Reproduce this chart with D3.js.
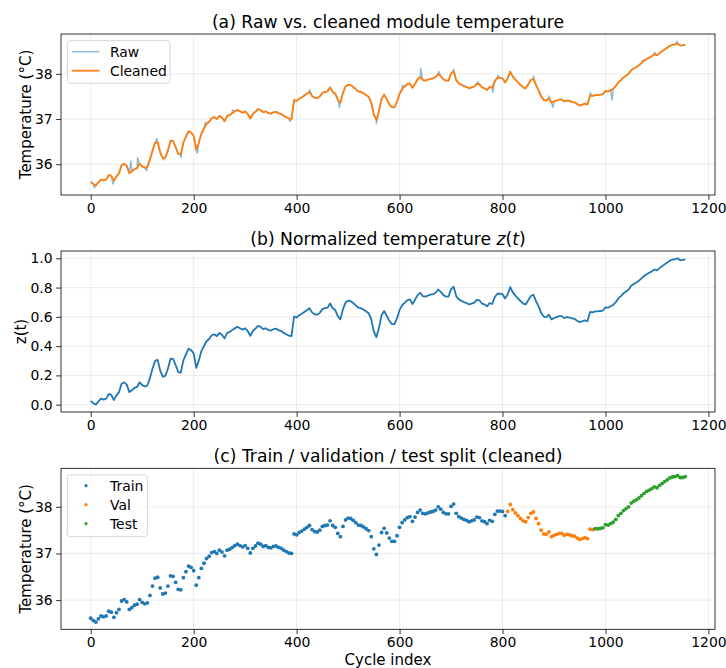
<!DOCTYPE html>
<html>
<head>
<meta charset="utf-8">
<script src="https://cdn.jsdelivr.net/npm/d3@7"></script>
<style>
  html, body { margin: 0; padding: 0; background: #fff; }
  svg { display: block; font-family: "DejaVu Sans", sans-serif; }
</style>
</head>
<body>
<svg id="chart" width="726" height="668"></svg>
<script>
// Cleaned module temperature (°C), one reading every 5 cycles starting at cycle 0
const cleanedTemp = [
  35.61, 35.56, 35.53, 35.60, 35.66, 35.64, 35.66, 35.76, 35.74, 35.63,
  35.73, 35.80, 35.98, 36.01, 35.96, 35.80, 35.84, 35.89, 35.91, 36.01,
  35.95, 35.92, 35.94, 36.10, 36.30, 36.47, 36.49, 36.26, 36.13, 36.15,
  36.30, 36.52, 36.51, 36.38, 36.23, 36.22, 36.48, 36.61, 36.73, 36.70,
  36.63, 36.32, 36.48, 36.68, 36.79, 36.89, 36.94, 37.02, 37.04, 37.00,
  37.07, 37.03, 36.95, 37.07, 37.09, 37.13, 37.17, 37.20, 37.17, 37.14,
  37.17, 37.11, 37.01, 37.11, 37.16, 37.22, 37.20, 37.15, 37.17, 37.13,
  37.12, 37.15, 37.16, 37.13, 37.11, 37.07, 37.04, 37.01, 37.00, 37.42,
  37.40, 37.45, 37.48, 37.52, 37.56, 37.60, 37.51, 37.47, 37.46, 37.50,
  37.58, 37.60, 37.61, 37.70, 37.60, 37.56, 37.43, 37.36, 37.58, 37.72,
  37.76, 37.75, 37.71, 37.66, 37.61, 37.60, 37.57, 37.53, 37.49, 37.36,
  37.10, 36.98, 37.18, 37.45, 37.54, 37.44, 37.33, 37.26, 37.26, 37.38,
  37.56, 37.66, 37.72, 37.77, 37.79, 37.69, 37.78, 37.88, 37.93, 37.86,
  37.85, 37.87, 37.89, 37.90, 37.93, 38.00, 37.95, 37.88, 37.85, 37.85,
  38.01, 38.06, 37.86, 37.79, 37.76, 37.73, 37.71, 37.68, 37.70, 37.72,
  37.78, 37.77, 37.70, 37.68, 37.64, 37.71, 37.69, 37.84, 37.91, 37.91,
  37.90, 37.81, 37.90, 38.05, 37.94, 37.87, 37.81, 37.75, 37.70, 37.68,
  37.77, 37.86, 37.89, 37.75, 37.64, 37.50, 37.42, 37.41, 37.46, 37.36,
  37.39, 37.41, 37.43, 37.43, 37.39, 37.41, 37.40, 37.38, 37.37, 37.33,
  37.30, 37.32, 37.34, 37.32, 37.52, 37.51, 37.53, 37.53, 37.54, 37.55,
  37.62, 37.61, 37.64, 37.67, 37.73, 37.81, 37.86, 37.92, 37.96, 38.00,
  38.08, 38.12, 38.15, 38.19, 38.24, 38.29, 38.33, 38.36, 38.39, 38.43,
  38.41, 38.46, 38.50, 38.54, 38.58, 38.62, 38.64, 38.65, 38.67, 38.63,
  38.63, 38.65
];
const cycleStep = 5;

// Raw readings that the cleaning step replaced (cycle, °C)
const rawOutlierCycle = [7, 43, 78, 91, 109, 128, 142, 175, 207, 223, 275, 387, 425, 483, 555,
  605, 641, 676, 705, 752, 781, 791, 860, 890, 898, 970, 1013, 1072, 1095, 1139];
const rawOutlierTemp = [35.48, 35.56, 36.07, 36.14, 35.86, 36.57, 36.10, 36.14, 36.24, 36.93, 37.20, 36.95, 37.65, 37.26, 36.90,
  37.74, 38.12, 38.05, 38.10, 37.83, 37.59, 37.97, 37.95, 37.51, 37.26, 37.58, 37.42, 38.30, 38.48, 38.72];

// First cycle of the validation and test segments
const valStartCycle = 809;
const testStartCycle = 978;

const xTicks = [0, 200, 400, 600, 800, 1000, 1200];
const tempTicks = [36, 37, 38];
const zTicks = [0.0, 0.2, 0.4, 0.6, 0.8, 1.0];

const titles = [
  "(a) Raw vs. cleaned module temperature",
  "(b) Normalized temperature ",
  "(c) Train / validation / test split (cleaned)"
];

const colors = { blue: "#1f77b4", orange: "#ff7f0e", green: "#2ca02c" };

// ---- derived series ----
const cleaned = cleanedTemp.map((t, i) => ({ c: i * cycleStep, t }));
const raw = cleaned.concat(rawOutlierCycle.map((c, i) => ({ c, t: rawOutlierTemp[i] })))
  .sort((a, b) => a.c - b.c);
const tMin = d3.min(cleanedTemp), tMax = d3.max(cleanedTemp);
const normalized = cleaned.map(d => ({ c: d.c, z: (d.t - tMin) / (tMax - tMin) }));

// ---- layout ----
const svg = d3.select("#chart");
const left = 61, right = 715, panelH = 161;
const tops = [34, 251, 468.3];
const tickFont = "13.9px", labelFont = "15px", titleFont = "17.2px";

const lastCycle = d3.max(cleaned, d => d.c);
const x = d3.scaleLinear()
  .domain([-0.05 * lastCycle, 1.05 * lastCycle])
  .range([left, right]);

function padded(lo, hi) {
  const m = (hi - lo) * 0.05;
  return [lo - m, hi + m];
}

function panel(idx, yDomain, yTicks, yFmt) {
  const top = tops[idx], bottom = top + panelH;
  const y = d3.scaleLinear().domain(yDomain).range([bottom, top]);
  const g = svg.append("g");

  // grid
  const grid = g.append("g").attr("stroke", "#b0b0b0").attr("stroke-opacity", 0.3).attr("stroke-width", 0.8);
  xTicks.forEach(v => grid.append("line").attr("x1", x(v)).attr("x2", x(v)).attr("y1", top).attr("y2", bottom));
  yTicks.forEach(v => grid.append("line").attr("x1", left).attr("x2", right).attr("y1", y(v)).attr("y2", y(v)));

  // axes
  const xa = g.append("g").attr("transform", `translate(0,${bottom})`)
    .call(d3.axisBottom(x).tickValues(xTicks).tickFormat(d3.format("d")).tickSize(4.9).tickPadding(2.9));
  const ya = g.append("g").attr("transform", `translate(${left},0)`)
    .call(d3.axisLeft(y).tickValues(yTicks).tickFormat(yFmt).tickSize(4.9).tickPadding(3.5));
  [xa, ya].forEach(a => {
    a.select(".domain").remove();
    a.selectAll(".tick line").attr("stroke", "#000").attr("stroke-width", 0.8);
    a.selectAll(".tick text").attr("fill", "#000").style("font-size", tickFont).style("font-family", "DejaVu Sans");
  });

  const plot = g.append("g");
  g.append("rect").attr("x", left).attr("y", top)
    .attr("width", right - left).attr("height", panelH)
    .attr("fill", "none").attr("stroke", "#000").attr("stroke-width", 0.8);

  return { g, y, top, bottom, plot };
}

function ylabel(p, text, bx) {
  return svg.append("text")
    .attr("transform", `translate(${bx},${(p.top + p.bottom) / 2}) rotate(-90)`)
    .attr("text-anchor", "middle").style("font-size", labelFont).attr("fill", "#000")
    .text(text);
}

function title(p, i) {
  return svg.append("text").attr("x", (left + right) / 2).attr("y", p.top - 6)
    .attr("text-anchor", "middle").style("font-size", titleFont).attr("fill", "#000")
    .text(titles[i]);
}

function legendBox(x0, y0, w, h) {
  svg.append("rect").attr("x", x0).attr("y", y0).attr("width", w).attr("height", h)
    .attr("rx", 2.8).attr("fill", "#fff").attr("fill-opacity", 0.8)
    .attr("stroke", "#cccccc").attr("stroke-width", 0.8);
}

// ---- (a) raw vs cleaned ----
const allA = raw.map(d => d.t);
const pA = panel(0, padded(d3.min(allA), d3.max(allA)), tempTicks, d3.format("d"));
const lineA = d3.line().x(d => x(d.c)).y(d => pA.y(d.t));
pA.plot.append("path").datum(raw).attr("d", lineA)
  .attr("fill", "none").attr("stroke", colors.blue).attr("stroke-opacity", 0.5).attr("stroke-width", 1.5)
  .attr("stroke-linejoin", "round");
pA.plot.append("path").datum(cleaned).attr("d", lineA)
  .attr("fill", "none").attr("stroke", colors.orange).attr("stroke-width", 1.8)
  .attr("stroke-linejoin", "round");
title(pA, 0);
ylabel(pA, "Temperature (°C)", 31);

legendBox(67.3, 40.7, 102.7, 42.6);
[["Raw", colors.blue, 0.5, 1.5], ["Cleaned", colors.orange, 1, 1.8]].forEach(([lab, col, op, w], i) => {
  const cy = 51.7 + i * 19;
  svg.append("line").attr("x1", 71.7).attr("x2", 99.5).attr("y1", cy).attr("y2", cy)
    .attr("stroke", col).attr("stroke-opacity", op).attr("stroke-width", w);
  svg.append("text").attr("x", 110).attr("y", cy + 5).style("font-size", tickFont).attr("fill", "#000").text(lab);
});

// ---- (b) normalized ----
const pB = panel(1, padded(0, 1), zTicks, d3.format(".1f"));
const lineB = d3.line().x(d => x(d.c)).y(d => pB.y(d.z));
pB.plot.append("path").datum(normalized).attr("d", lineB)
  .attr("fill", "none").attr("stroke", colors.blue).attr("stroke-width", 1.8)
  .attr("stroke-linejoin", "round");
const tb = title(pB, 1);
tb.append("tspan").style("font-style", "italic").text("z");
tb.append("tspan").text("(");
tb.append("tspan").style("font-style", "italic").text("t");
tb.append("tspan").text(")");
ylabel(pB, "z(t)", 26);

// ---- (c) split ----
const pC = panel(2, padded(tMin, tMax), tempTicks, d3.format("d"));
const segment = d => d.c < valStartCycle ? "train" : d.c < testStartCycle ? "val" : "test";
const segColor = { train: colors.blue, val: colors.orange, test: colors.green };
pC.plot.selectAll("circle").data(cleaned).join("circle")
  .attr("cx", d => x(d.c)).attr("cy", d => pC.y(d.t)).attr("r", 1.9)
  .attr("fill", d => segColor[segment(d)]);
title(pC, 2);
ylabel(pC, "Temperature (°C)", 31);
svg.append("text").attr("x", (left + right) / 2).attr("y", 665)
  .attr("text-anchor", "middle").style("font-size", labelFont).attr("fill", "#000").text("Cycle index");

legendBox(67.3, 475, 80, 61.7);
[["Train", colors.blue], ["Val", colors.orange], ["Test", colors.green]].forEach(([lab, col], i) => {
  const cy = 485.7 + i * 19;
  svg.append("circle").attr("cx", 86).attr("cy", cy).attr("r", 1.6).attr("fill", col);
  svg.append("text").attr("x", 110).attr("y", cy + 5).style("font-size", tickFont).attr("fill", "#000").text(lab);
});
</script>
</body>
</html>
